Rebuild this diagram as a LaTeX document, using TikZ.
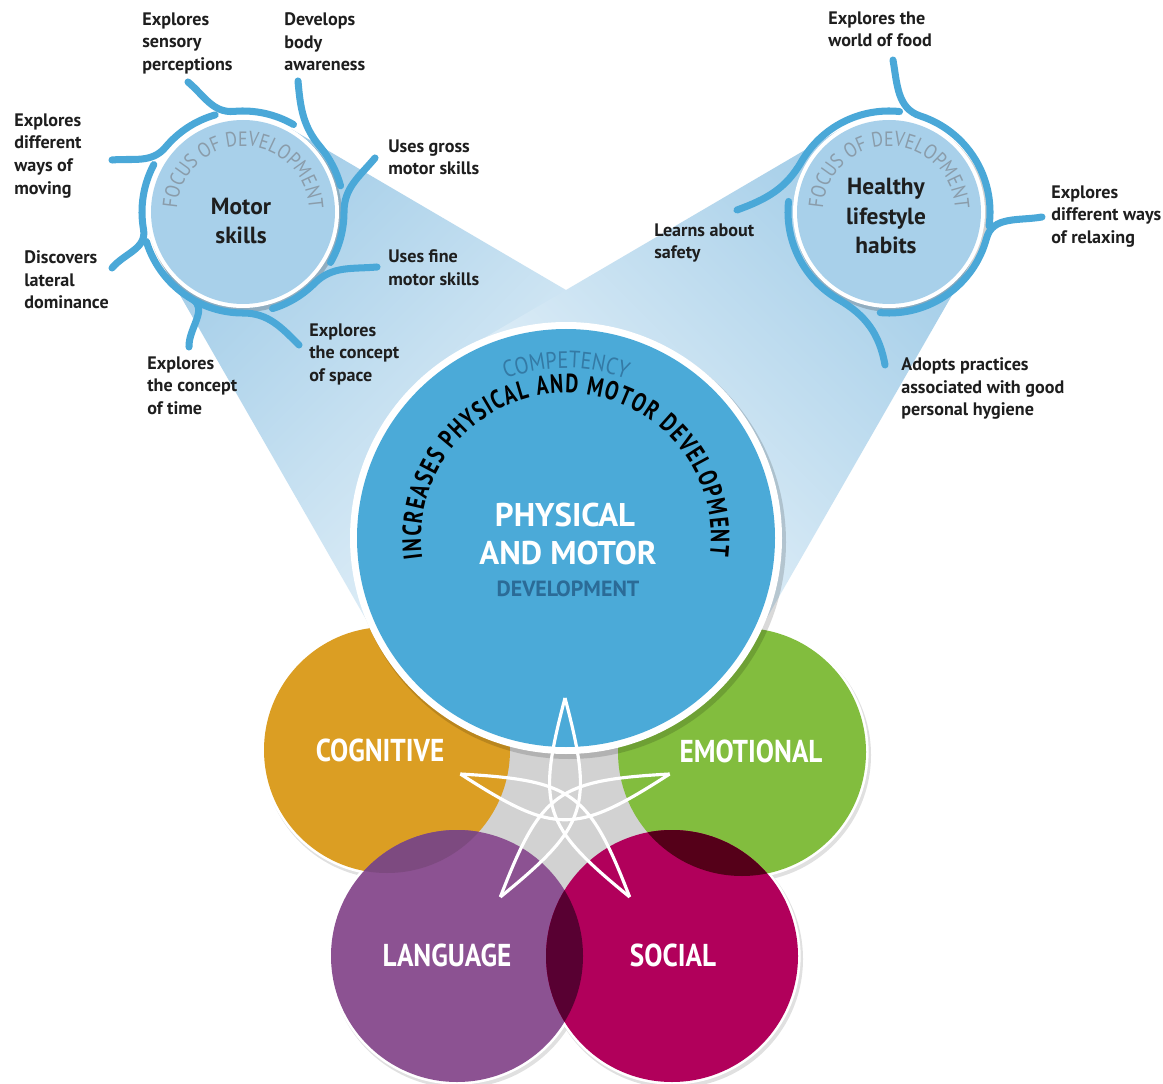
\documentclass[tikz,border=0pt]{standalone}
\usepackage{fontspec}
\setmainfont{PT Sans}
\newfontfamily\narrowfont{PT Sans}[FakeStretch=0.86]
\newfontfamily\arcfont{PT Sans}[FakeStretch=0.76]
\usepackage{tikz}
\usetikzlibrary{calc, decorations.text}
\usepackage{xcolor}

\definecolor{mainblue}{HTML}{4BAAD8}
\definecolor{focusblue}{HTML}{A8D0EA}
\definecolor{branchblue}{HTML}{4AA8D8}
\definecolor{conedark}{HTML}{A3CDE8}
\definecolor{conelight}{HTML}{EEF6FB}
\definecolor{cogorange}{HTML}{DB9E23}
\definecolor{emogreen}{HTML}{82BD3E}
\definecolor{langpurple}{HTML}{8C5292}
\definecolor{socmagenta}{HTML}{B1005B}
\definecolor{coglang}{HTML}{7D4A80}
\definecolor{emosoc}{HTML}{550019}
\definecolor{langsoc}{HTML}{580032}
\definecolor{hubgrey}{HTML}{D2D2D2}
\definecolor{focusgrey}{HTML}{8A9CAA}
\definecolor{compblue}{HTML}{347AA5}
\definecolor{devblue}{HTML}{2B6B97}
\definecolor{labeltext}{HTML}{1E1E1E}

\begin{document}
\begin{tikzpicture}[x=0.02cm, y=0.02cm,
        branch/.style={line width=4pt, draw=branchblue, line cap=round},
        lbl/.style={anchor=north west, align=left, inner sep=0pt, text=labeltext,
            font=\bfseries\fontsize{10.3}{13}\selectfont},
        focustitle/.style={align=center, inner sep=0pt, text=labeltext,
            font=\bfseries\fontsize{13.3}{17}\selectfont},
        areatxt/.style={anchor=base, inner sep=0pt, text=white,
            font=\narrowfont\bfseries\fontsize{18}{20}\selectfont},
        titletxt/.style={anchor=base, inner sep=0pt, text=white,
            font=\bfseries\fontsize{18.7}{22}\selectfont},
        petal/.style={draw=white, line width=1.8pt, line join=round},
        focusarc/.style={decorate, decoration={text along path, text align={fit to path},
            text color=focusgrey, text={|\narrowfont\fontsize{11.8}{13}\selectfont|FOCUS OF DEVELOPMENT}}}]

        % Frame
        \useasboundingbox (0,0) rectangle (1163,-1084);
        \fill[white] (0,0) rectangle (1163,-1084);

        % Define Coordinates
        \coordinate (main) at (566,-538);
        \coordinate (motor) at (243,-212);
        \coordinate (healthy) at (889,-212);
        \coordinate (cog) at (387,-750);
        \coordinate (emo) at (742,-752);
        \coordinate (lang) at (457,-956);
        \coordinate (soc) at (672,-956);
        \coordinate (hub) at (565,-808);

        % Light Cones (tangent to both circles)
        \shade[top color=conedark, bottom color=conelight, shading angle=45]
            (291.5,-129.2) -- (674.2,-353.4) -- (main) -- (380.4,-644.5) -- (159.7,-259.8) -- (motor) -- cycle;
        \shade[top color=conedark, bottom color=conelight, shading angle=-45]
            (840.5,-129.2) -- (457.8,-353.4) -- (main) -- (751.6,-644.5) -- (972.3,-259.8) -- (healthy) -- cycle;

        % Domain Circles
        \foreach \c/\r in {cog/123, emo/124, lang/126, soc/126}
            \fill[black, opacity=0.12] ([shift={(2,-3)}]\c) circle[radius=\r+3];
        \foreach \c/\r in {cog/123, emo/124, lang/126, soc/126}
            \draw[white, line width=3pt] (\c) circle[radius=\r];
        \fill[hubgrey] (hub) circle[radius=95];
        \fill[cogorange] (cog) circle[radius=123];
        \fill[emogreen] (emo) circle[radius=124];
        \fill[langpurple] (lang) circle[radius=126];
        \fill[socmagenta] (soc) circle[radius=126];

        % Overlaps
        \begin{scope}
            \clip (lang) circle[radius=126];
            \fill[coglang] (cog) circle[radius=123];
        \end{scope}
        \begin{scope}
            \clip (soc) circle[radius=126];
            \fill[emosoc] (emo) circle[radius=124];
        \end{scope}
        \begin{scope}
            \clip (lang) circle[radius=126];
            \fill[langsoc] (soc) circle[radius=126];
        \end{scope}

        % Domain Labels
        \node[areatxt] (cogtxt) at (380,-761) {COGNITIVE};
        \node[areatxt] (emotxt) at (751,-762) {EMOTIONAL};
        \node[areatxt] (langtxt) at (447,-966) {LANGUAGE};
        \node[areatxt] (soctxt) at (673,-966) {SOCIAL};

        % Competency Circle
        \fill[black, opacity=0.15] ([shift={(3,-4)}]main) circle[radius=217];
        \fill[white] (main) circle[radius=216];
        \fill[mainblue] (main) circle[radius=209];

        \path[decorate, decoration={text along path, text align=center, text color=compblue,
            text={|\narrowfont\fontsize{13.5}{15}\selectfont|COMPETENCY}}]
            ([shift={(112:170)}]main) arc[start angle=112, end angle=68, radius=170];
        \path[decorate, decoration={text along path, text align={fit to path}, text color=black,
            text={|\arcfont\bfseries\fontsize{15}{17}\selectfont|INCREASES PHYSICAL AND MOTOR DEVELOPMENT}}]
            ([shift={(188:145)}]main) arc[start angle=188, end angle=-7, radius=145];

        \node[titletxt] (phys) at (565,-526.5) {PHYSICAL};
        \node[titletxt] (andmotor) at (568,-564.5) {AND MOTOR};
        \node[anchor=base, inner sep=0pt, text=devblue, font=\bfseries\fontsize{12.5}{14}\selectfont] (devl) at (568,-596.5) {DEVELOPMENT};

        % Star of Arcs
        \begin{scope}[shift={(hub)}]
            \foreach \a in {90,162,234,306,378}
                \draw[petal] (\a:110) .. controls (\a-87.7:28.8) and (\a+231.7:28.8) .. (\a+144:110);
        \end{scope}

        % Focus Circles
        \foreach \c in {motor, healthy} {
            \fill[black, opacity=0.18] ([shift={(2,-3)}]\c) circle[radius=97];
            \fill[white] (\c) circle[radius=96];
            \fill[focusblue] (\c) circle[radius=92];
            \path[focusarc] ([shift={(177:66)}]\c) arc[start angle=177, end angle=3, radius=66];
        }
        \node[focustitle] (motortxt) at (241,-221) {Motor\\skills};
        \node[focustitle] (healthytxt) at (886,-216) {Healthy\\lifestyle\\habits};

        % Branches (tail end / join angle / in / end angle)
        \foreach \px/\py/\o/\a/\i/\b in {188/82/-40/95/185/60, 298/81/-85/40/130/15,
                112/160/5/140/230/106, 375/158/230/0/90/-30, 112/268/50/190/280/152,
                377/267/185/-45/45/-73, 299/345/135/-90/0/-118, 189/347/92/-120/330/-163}
            \draw[branch] (\px,-\py) to[out=\o, in=\i] ([shift={(\a:101)}]motor)
                arc[start angle=\a, end angle=\b, radius=101];
        \foreach \px/\py/\o/\a/\i/\b in {893/60/-80/72/162/-8, 737/210/20/150/240/84,
                1042/217/190/-15/75/-95, 885/365/100/-120/330/-186}
            \draw[branch] (\px,-\py) to[out=\o, in=\i] ([shift={(\a:101)}]healthy)
                arc[start angle=\a, end angle=\b, radius=101];

        % Motor Skills Labels
        \node[lbl] (sensory) at (142,-12) {Explores\\sensory\\perceptions};
        \node[lbl] (body) at (284,-12) {Develops\\body\\awareness};
        \node[lbl] (moving) at (14,-113) {Explores\\different\\ways of\\moving};
        \node[lbl] (gross) at (388,-139) {Uses gross\\motor skills};
        \node[lbl] (lateral) at (24,-250) {Discovers\\lateral\\dominance};
        \node[lbl] (fine) at (388,-249) {Uses fine\\motor skills};
        \node[lbl] (space) at (309,-323) {Explores\\the concept\\of space};
        \node[lbl] (time) at (147,-356) {Explores\\the concept\\of time};

        % Healthy Habits Labels
        \node[lbl] (food) at (828,-11) {Explores the\\world of food};
        \node[lbl] (safety) at (654,-223) {Learns about\\safety};
        \node[lbl] (relax) at (1051,-185) {Explores\\different ways\\of relaxing};
        \node[lbl] (hygiene) at (901,-357) {Adopts practices\\associated with good\\personal hygiene};

    \end{tikzpicture}
\end{document}
